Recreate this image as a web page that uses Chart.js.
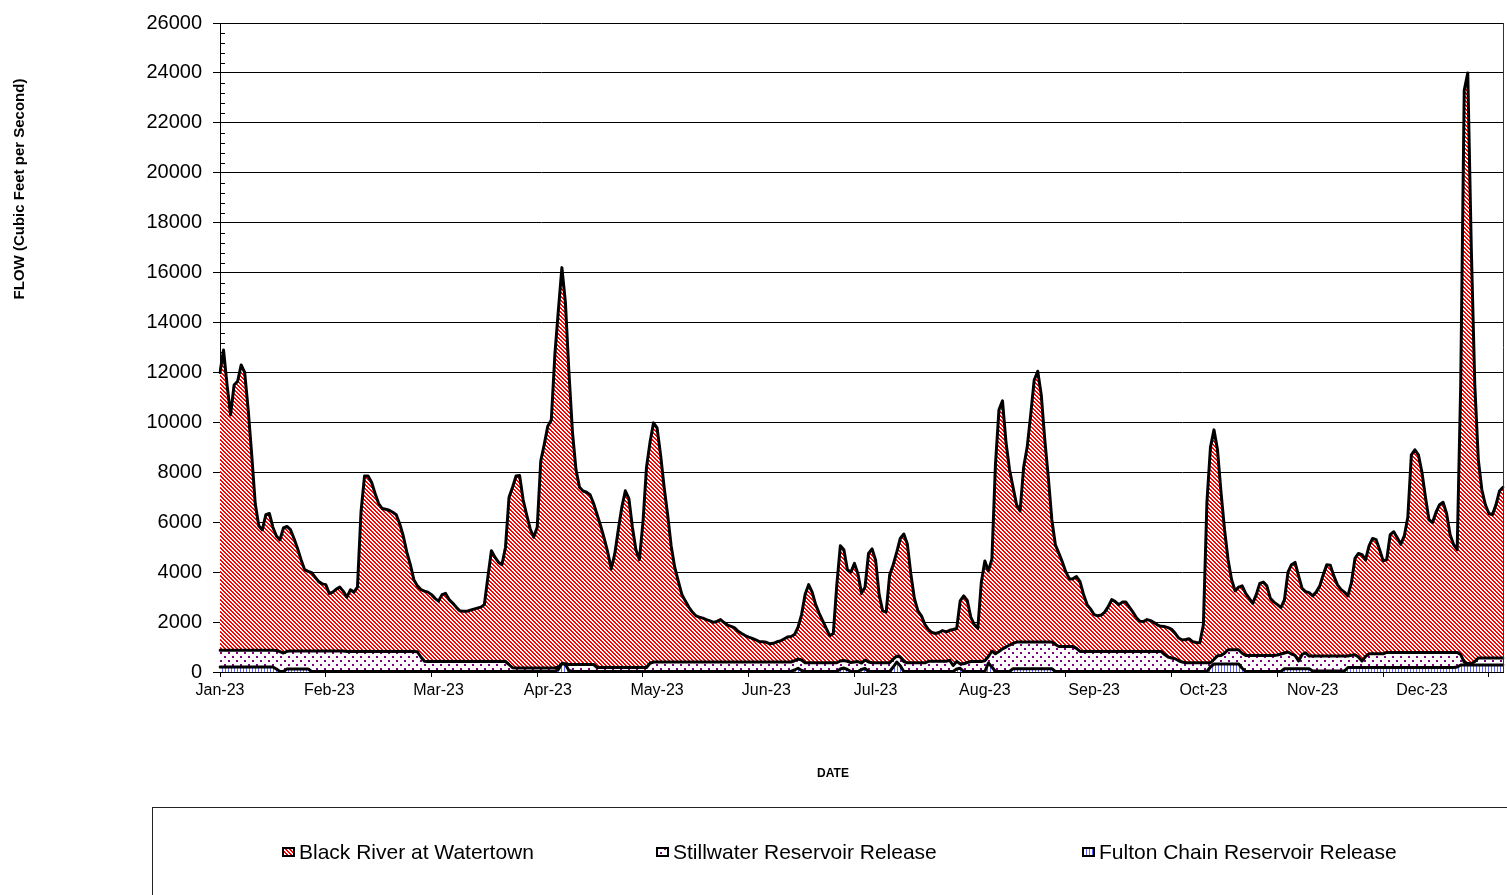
<!DOCTYPE html>
<html><head><meta charset="utf-8">
<script src="https://cdn.jsdelivr.net/npm/chart.js@4/dist/chart.umd.min.js"></script>
<style>html,body{margin:0;padding:0;background:#fff;}canvas{display:block;}</style>
</head><body>
<canvas id="c" width="1507" height="895"></canvas>
<script>
const monthLabels = ['Jan-23','Feb-23','Mar-23','Apr-23','May-23','Jun-23','Jul-23','Aug-23','Sep-23','Oct-23','Nov-23','Dec-23'];
const seriesNames = ['Black River at Watertown','Stillwater Reservoir Release','Fulton Chain Reservoir Release'];
const yTickValues = {min:0, max:26000, step:2000, minor:400};
const labelEvery = 31;   // category interval between labels
const tickEvery = 30;    // category interval between tick marks

const blackRiver = [
12000,12900,11500,10300,11500,11650,12300,12000,10500,8700,
6740,5860,5690,6300,6350,5800,5450,5290,5770,5830,
5700,5350,4950,4500,4100,4030,3980,3800,3620,3530,
3500,3150,3200,3320,3400,3230,3000,3290,3200,3400,
6400,7850,7850,7600,7150,6750,6550,6520,6480,6400,
6300,5930,5450,4800,4300,3700,3450,3300,3240,3200,
3100,2950,2840,3100,3150,2900,2760,2600,2450,2430,
2430,2480,2520,2560,2600,2700,3800,4860,4600,4400,
4300,5000,7000,7400,7850,7870,6900,6300,5730,5400,
5800,8450,9120,9850,10100,12700,14500,16200,14800,12000,
9600,8100,7400,7250,7200,7100,6750,6300,5850,5350,
4800,4130,4730,5700,6600,7260,6950,5800,4900,4500,
6000,8190,9200,9980,9780,8700,7400,6300,5050,4200,
3650,3120,2850,2600,2400,2250,2200,2160,2100,2050,
1990,2030,2100,1980,1880,1830,1770,1630,1540,1460,
1400,1350,1290,1215,1210,1190,1130,1150,1210,1240,
1320,1400,1420,1500,1800,2300,3100,3500,3200,2700,
2350,2050,1750,1450,1540,3500,5060,4900,4100,4000,
4350,3930,3150,3400,4750,4930,4480,3100,2450,2400,
3900,4300,4800,5350,5530,5130,3930,2950,2450,2250,
1900,1700,1580,1540,1580,1660,1610,1670,1700,1740,
2850,3050,2870,2200,1900,1750,3600,4450,4050,4520,
8300,10500,10860,9200,8100,7400,6700,6450,8200,9000,
10300,11700,12050,11100,9300,7800,6100,5100,4750,4400,
4000,3720,3740,3820,3620,3100,2700,2520,2300,2250,
2280,2400,2620,2900,2820,2700,2800,2800,2600,2400,
2170,2030,2020,2100,2060,1980,1880,1830,1820,1780,
1710,1550,1360,1280,1300,1330,1210,1180,1170,1900,
6800,9000,9700,8900,7200,5700,4500,3700,3250,3400,
3450,3150,2950,2750,3100,3550,3600,3450,2950,2800,
2700,2580,2900,4000,4300,4390,3850,3350,3220,3180,
3050,3200,3440,3900,4300,4280,3850,3500,3310,3200,
3050,3580,4550,4750,4700,4490,5050,5350,5300,4900,
4450,4500,5500,5620,5380,5120,5450,6200,8700,8900,
8700,8000,7000,6100,5990,6400,6700,6800,6350,5500,
5100,4900,11500,23300,24000,17000,11500,8500,7300,6700,
6350,6300,6700,7250,7400
];

const stillwater = [
870,870,870,870,870,870,870,870,870,870,
870,870,870,870,870,870,860,820,760,830,
840,840,840,840,840,840,840,840,840,840,
840,840,840,840,840,840,820,820,820,820,
820,820,820,820,820,820,820,820,820,820,
820,820,820,820,820,820,810,600,430,420,
420,420,420,420,420,420,420,420,420,420,
420,420,420,420,420,420,420,420,420,420,
420,420,300,170,160,160,160,160,160,160,
160,160,160,160,160,160,200,330,330,300,
300,300,300,300,300,300,300,180,180,180,
180,180,180,180,180,180,180,180,180,180,
180,180,350,400,400,400,400,400,400,400,
400,400,400,400,400,400,400,400,400,400,
400,400,400,400,400,400,400,400,400,400,
400,400,400,400,400,400,400,400,400,400,
400,400,400,450,520,480,370,370,370,370,
370,370,370,370,370,370,440,460,430,380,
400,420,360,480,400,370,370,370,370,370,
370,520,640,600,420,370,370,370,370,370,
370,430,430,430,430,430,430,470,260,420,
330,330,380,420,420,420,420,450,620,840,
730,820,930,1000,1080,1150,1200,1200,1200,1200,
1200,1200,1200,1200,1200,1200,1200,1100,1020,1020,
1020,1020,1020,950,825,825,825,825,825,825,
825,825,825,825,825,825,825,825,825,825,
825,825,825,825,825,825,825,825,700,600,
560,530,450,400,370,370,370,370,370,370,
370,370,500,650,665,750,890,890,890,890,
750,665,665,665,665,665,665,665,665,665,
680,720,760,800,720,665,440,700,770,640,
640,640,640,640,640,640,640,640,640,640,
640,670,690,600,440,620,730,730,730,730,
730,785,785,785,785,785,785,785,785,785,
785,785,785,785,785,785,785,785,785,785,
785,785,700,400,340,330,420,560,560,560,
560,560,560,560,560
];

const fultonChain = [
200,200,200,200,200,200,200,200,200,200,
200,200,200,200,200,200,120,20,20,120,
120,120,120,120,120,120,20,20,20,20,
20,20,20,20,20,20,20,20,20,20,
20,20,20,20,20,20,20,20,20,20,
20,20,20,20,20,20,20,20,20,20,
20,20,20,20,20,20,20,20,20,20,
20,20,20,20,20,20,20,20,20,20,
20,20,20,20,20,20,20,20,20,20,
20,20,20,20,20,20,100,340,300,60,
20,20,20,20,20,20,20,20,20,20,
20,20,20,20,20,20,20,20,20,20,
20,20,20,20,20,20,20,20,20,20,
20,20,20,20,20,20,20,20,20,20,
20,20,20,20,20,20,20,20,20,20,
20,20,20,20,20,20,20,20,20,20,
20,20,20,80,150,60,20,20,20,20,
20,20,20,20,20,20,120,160,100,20,
20,20,100,140,20,20,20,20,20,20,
20,200,400,250,20,20,20,20,20,20,
20,20,20,20,20,20,20,20,20,120,
150,20,20,20,20,20,20,20,360,200,
20,20,20,20,20,130,130,130,130,130,
130,130,130,130,130,130,130,20,20,20,
20,20,20,20,20,20,20,20,20,20,
20,20,20,20,20,20,20,20,20,20,
20,20,20,20,20,20,20,20,20,20,
20,20,20,20,20,20,20,20,20,20,
20,200,320,320,320,320,320,320,320,320,
150,20,20,20,20,20,20,20,20,20,
20,20,130,130,130,130,130,130,130,130,
40,40,40,40,40,40,40,40,40,40,
180,180,180,180,180,180,180,180,180,180,
180,180,180,180,180,180,180,180,180,180,
180,180,180,180,180,180,180,180,180,180,
180,200,280,280,280,280,280,280,280,280,
280,280,280,280,280
];

// daily categories for 2023
const days = blackRiver.map((_, i) => new Date(Date.UTC(2023, 0, 1 + i)).toISOString().slice(0, 10));

const canvas = document.getElementById('c');
const mainCtx = canvas.getContext('2d');

function makePattern(w, h, bg, fg, test) {
  const t = document.createElement('canvas');
  t.width = w; t.height = h;
  const x = t.getContext('2d');
  x.fillStyle = bg; x.fillRect(0, 0, w, h);
  x.fillStyle = fg;
  for (let j = 0; j < h; j++) for (let i = 0; i < w; i++) if (test(i, j)) x.fillRect(i, j, 1, 1);
  return mainCtx.createPattern(t, 'repeat');
}
const redHatch = makePattern(4, 4, '#ffffff', '#ff0000', (i, j) => ((i - j) % 4 + 4) % 4 < 2);
const purpleDots = makePattern(8, 8, '#ffffff', '#800080', (i, j) => (i < 2 && j < 2) || (i >= 4 && i < 6 && j >= 4 && j < 6));
const blueStripes = makePattern(3, 1, '#ffffff', '#6262ff', (i, j) => i === 0);
const fills = [redHatch, purpleDots, blueStripes];

const FONT = '"Liberation Sans", Arial, sans-serif';

const decor = {
  id: 'decor',
  beforeDatasetsDraw(chart) {
    const ctx = chart.ctx, a = chart.chartArea, y = chart.scales.y;
    ctx.save();
    ctx.strokeStyle = '#000'; ctx.lineWidth = 1;
    for (let v = yTickValues.min; v <= yTickValues.max; v += yTickValues.minor) {
      if (v % yTickValues.step === 0) continue;
      const py = Math.round(y.getPixelForValue(v)) + 0.5;
      ctx.beginPath(); ctx.moveTo(a.left, py); ctx.lineTo(a.left + 5, py); ctx.stroke();
    }
    ctx.restore();
  },
  afterDraw(chart) {
    const ctx = chart.ctx, a = chart.chartArea;
    ctx.save();
    ctx.strokeStyle = '#333'; ctx.lineWidth = 1;
    ctx.beginPath(); ctx.moveTo(a.right + 0.5, a.top); ctx.lineTo(a.right + 0.5, a.bottom); ctx.stroke();
    ctx.fillStyle = '#000';
    ctx.font = 'bold 15px ' + FONT;
    ctx.textAlign = 'center'; ctx.textBaseline = 'alphabetic';
    ctx.save(); ctx.translate(24, 189); ctx.rotate(-Math.PI / 2);
    ctx.fillText('FLOW (Cubic Feet per Second)', 0, 0);
    ctx.restore();
    ctx.font = 'bold 12px ' + FONT;
    ctx.fillText('DATE', 833, 777);
    ctx.strokeStyle = '#222'; ctx.lineWidth = 1;
    ctx.strokeRect(152.5, 807.5, 1400, 200);
    const xs = [282, 656, 1082];
    ctx.font = '21px ' + FONT; ctx.textAlign = 'left'; ctx.textBaseline = 'alphabetic';
    seriesNames.forEach((name, k) => {
      ctx.fillStyle = fills[k];
      ctx.fillRect(xs[k], 847, 13, 10);
      ctx.strokeStyle = '#000'; ctx.lineWidth = 2;
      ctx.strokeRect(xs[k] + 1, 848, 11, 8);
      ctx.fillStyle = '#000';
      ctx.fillText(name, xs[k] + 17, 859);
    });
    ctx.restore();
  }
};

const seriesData = [blackRiver, stillwater, fultonChain];
new Chart(mainCtx, {
  type: 'line',
  data: {
    labels: days,
    datasets: seriesData.map((d, k) => ({
      label: seriesNames[k],
      data: d,
      order: 3 - k,
      fill: 'origin',
      backgroundColor: fills[k],
      borderColor: '#000',
      borderWidth: 3,
      borderJoinStyle: 'round',
      borderCapStyle: 'round',
      pointRadius: 0,
      tension: 0
    }))
  },
  options: {
    responsive: false,
    animation: false,
    devicePixelRatio: 1,
    layout: { padding: { top: 20, right: 4, left: 0, bottom: 0 } },
    plugins: { legend: { display: false }, tooltip: { enabled: false } },
    events: [],
    scales: {
      x: {
        type: 'category',
        offset: false,
        afterFit(s) { s.height = 223; },
        grid: {
          drawOnChartArea: false, drawTicks: true, tickLength: 5, tickWidth: 1,
          tickColor: (c) => (c.index % tickEvery === 0 ? '#000' : 'rgba(0,0,0,0)')
        },
        border: { display: true, color: '#000', width: 1 },
        ticks: {
          autoSkip: false, maxRotation: 0, minRotation: 0, padding: 4,
          color: '#000', font: { family: FONT, size: 16 },
          callback: (v, i) => (i % labelEvery === 0 ? monthLabels[i / labelEvery] : '')
        }
      },
      y: {
        min: yTickValues.min, max: yTickValues.max,
        afterFit(s) { s.width = 220; },
        grid: { color: '#000', lineWidth: 1, tickLength: 7, tickColor: '#000' },
        border: { display: true, color: '#000', width: 1 },
        ticks: { stepSize: yTickValues.step, padding: 11, color: '#000', font: { family: FONT, size: 20 },
          callback: (v) => String(v) }
      }
    }
  },
  plugins: [decor]
});
</script>
</body></html>
